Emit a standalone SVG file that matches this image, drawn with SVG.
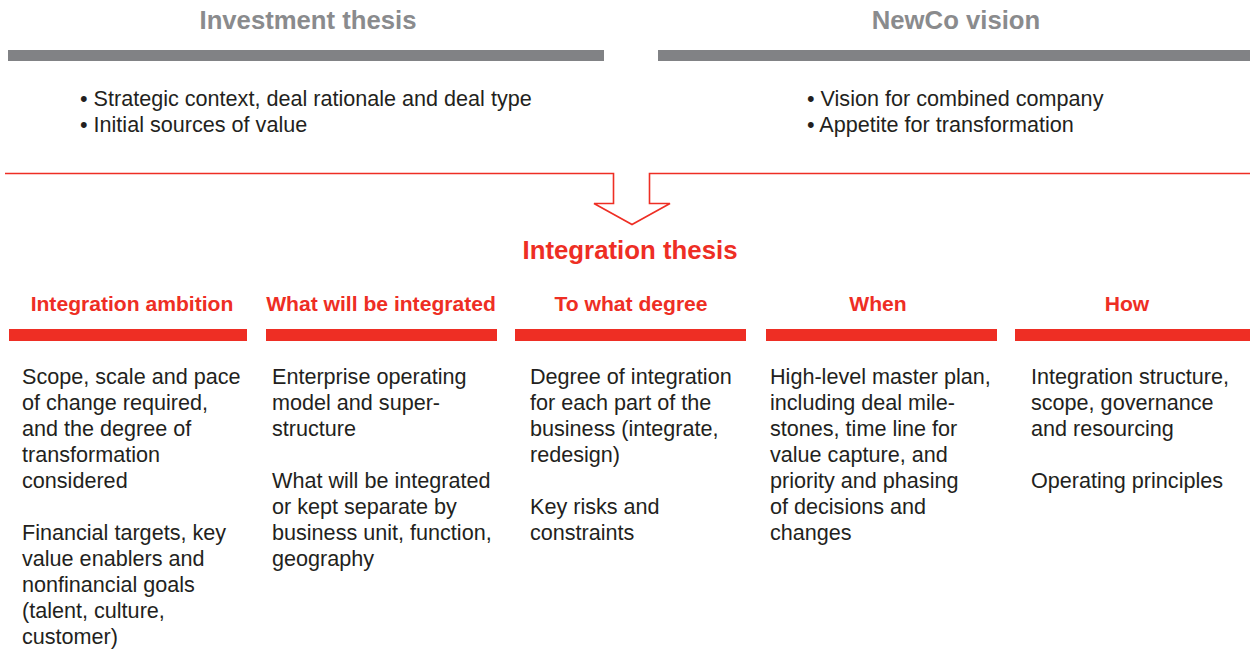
<svg xmlns="http://www.w3.org/2000/svg" width="1250" height="649" viewBox="0 0 1250 649">
<style>
.gh{font-family:"Liberation Sans",Arial,sans-serif;font-weight:bold;font-size:25.7px;fill:#8a8b8d;text-anchor:middle}
.bl{font-family:"Liberation Sans",Arial,sans-serif;font-size:21.6px;fill:#231f20}
.rh{font-family:"Liberation Sans",Arial,sans-serif;font-weight:bold;font-size:21.1px;fill:#ee2e24;text-anchor:middle}
.tt{font-family:"Liberation Sans",Arial,sans-serif;font-weight:bold;font-size:25.8px;fill:#ee2e24;text-anchor:middle}
.gb{fill:#818285}
.rb{fill:#ee2e24}
</style>
<rect width="1250" height="649" fill="#fff"/>
<g id="investment-thesis">
<text class="gh" x="308" y="29">Investment thesis</text>
<rect class="gb" x="8" y="50" width="596" height="11"/>
<text class="bl" x="80" y="106">• Strategic context, deal rationale and deal type</text>
<text class="bl" x="80" y="132">• Initial sources of value</text>
</g>
<g id="newco-vision">
<text class="gh" x="956" y="29">NewCo vision</text>
<rect class="gb" x="658" y="50" width="592" height="11"/>
<text class="bl" x="807" y="106">• Vision for combined company</text>
<text class="bl" x="807" y="132">• Appetite for transformation</text>
</g>
<g id="connectors">
<path d="M5,173.5 H613.5 V203.5 H594 L632,224.5 L670,203.5 H649.5 V173.5 H1250" fill="none" stroke="#ee2e24" stroke-width="1.6"/>
</g>
<g id="integration-thesis">
<text class="tt" x="630" y="259">Integration thesis</text>
</g>
<g id="integration-ambition">
<text class="rh" x="132" y="311">Integration ambition</text>
<rect class="rb" x="9" y="329" width="238" height="12"/>
<text class="bl" x="22" y="384">Scope, scale and pace</text>
<text class="bl" x="22" y="410">of change required,</text>
<text class="bl" x="22" y="436">and the degree of</text>
<text class="bl" x="22" y="462">transformation</text>
<text class="bl" x="22" y="488">considered</text>
<text class="bl" x="22" y="540">Financial targets, key</text>
<text class="bl" x="22" y="566">value enablers and</text>
<text class="bl" x="22" y="592">nonfinancial goals</text>
<text class="bl" x="22" y="618">(talent, culture,</text>
<text class="bl" x="22" y="644">customer)</text>
</g>
<g id="what-integrated">
<text class="rh" x="381" y="311">What will be integrated</text>
<rect class="rb" x="266" y="329" width="231" height="12"/>
<text class="bl" x="272" y="384">Enterprise operating</text>
<text class="bl" x="272" y="410">model and super-</text>
<text class="bl" x="272" y="436">structure</text>
<text class="bl" x="272" y="488">What will be integrated</text>
<text class="bl" x="272" y="514">or kept separate by</text>
<text class="bl" x="272" y="540">business unit, function,</text>
<text class="bl" x="272" y="566">geography</text>
</g>
<g id="to-what-degree">
<text class="rh" x="631" y="311">To what degree</text>
<rect class="rb" x="515" y="329" width="231" height="12"/>
<text class="bl" x="530" y="384">Degree of integration</text>
<text class="bl" x="530" y="410">for each part of the</text>
<text class="bl" x="530" y="436">business (integrate,</text>
<text class="bl" x="530" y="462">redesign)</text>
<text class="bl" x="530" y="514">Key risks and</text>
<text class="bl" x="530" y="540">constraints</text>
</g>
<g id="when">
<text class="rh" x="878" y="311">When</text>
<rect class="rb" x="766" y="329" width="231" height="12"/>
<text class="bl" x="770" y="384">High-level master plan,</text>
<text class="bl" x="770" y="410">including deal mile-</text>
<text class="bl" x="770" y="436">stones, time line for</text>
<text class="bl" x="770" y="462">value capture, and</text>
<text class="bl" x="770" y="488">priority and phasing</text>
<text class="bl" x="770" y="514">of decisions and</text>
<text class="bl" x="770" y="540">changes</text>
</g>
<g id="how">
<text class="rh" x="1127" y="311">How</text>
<rect class="rb" x="1015" y="329" width="235" height="12"/>
<text class="bl" x="1031" y="384">Integration structure,</text>
<text class="bl" x="1031" y="410">scope, governance</text>
<text class="bl" x="1031" y="436">and resourcing</text>
<text class="bl" x="1031" y="488">Operating principles</text>
</g>
</svg>
